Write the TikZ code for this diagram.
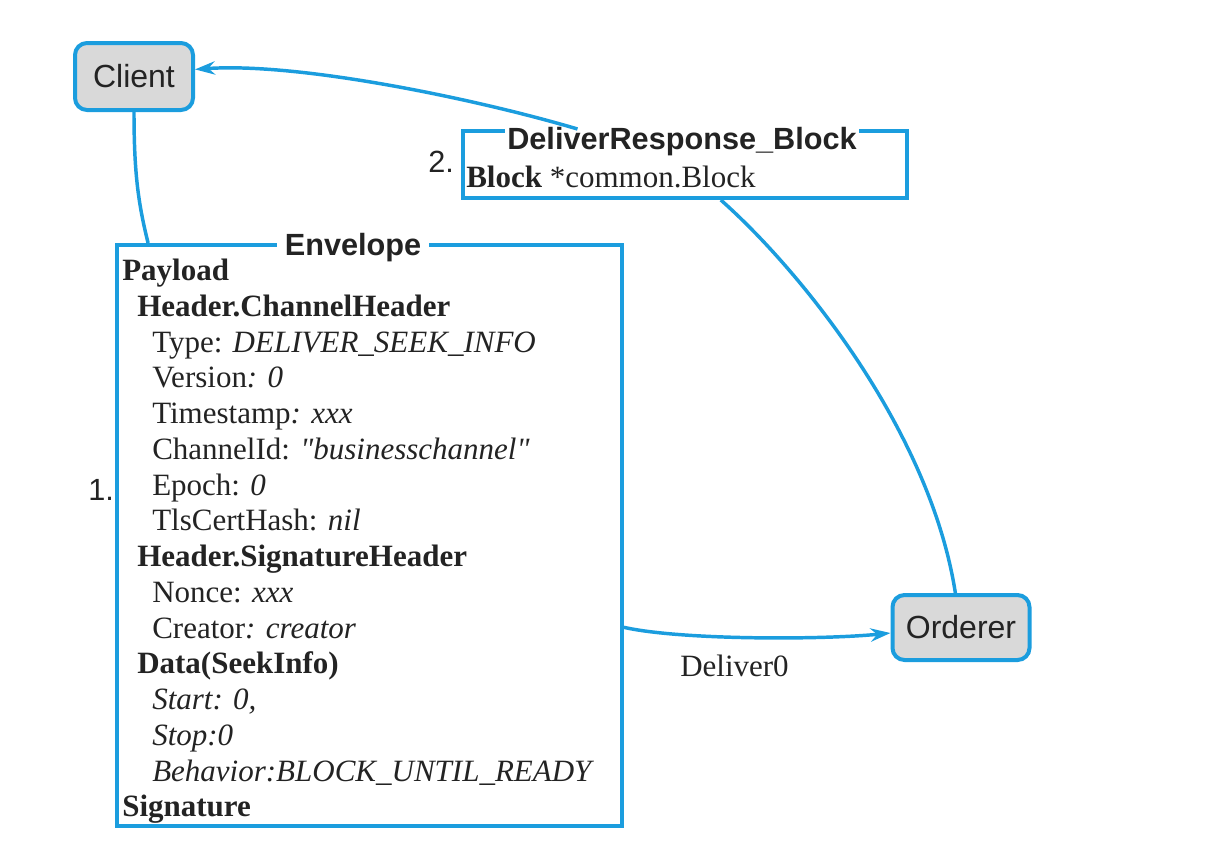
\documentclass[tikz,border=0pt]{standalone}
\usepackage{fontspec}
\setmainfont{Liberation Serif}
\setsansfont{Liberation Sans}
\usetikzlibrary{arrows.meta,calc}

\definecolor{msgblue}{RGB}{27,157,222}
\definecolor{nodegray}{RGB}{217,217,217}
\definecolor{inkgray}{RGB}{35,35,35}

\tikzset{
  peer/.style={draw=msgblue, fill=nodegray, line width=3pt, rounded corners=9pt, text=inkgray, font=\sffamily\fontsize{24}{28}\selectfont, inner sep=0pt},
  msgframe/.style={draw=msgblue, line width=3pt, inner sep=0pt},
  frametitle/.style={fill=white, text=inkgray, font=\sffamily\bfseries\fontsize{23}{27}\selectfont, inner ysep=2pt},
  fieldtext/.style={text=inkgray, font=\fontsize{23.25}{26.8}\selectfont, inner sep=0pt},
  steplabel/.style={text=inkgray, font=\sffamily\fontsize{23}{27}\selectfont, inner sep=0pt},
  flow/.style={draw=msgblue, line width=2.6pt},
  flowtip/.style={-{Stealth[length=15pt,width=10pt,inset=5pt]}}
}

\begin{document}
\begin{tikzpicture}[x=0.75pt,y=0.75pt,yscale=-1,xscale=1]
\useasboundingbox (0,0) rectangle (1214,847);

%Shape: Rounded Rect (client)
\node [peer, minimum width=88.5pt, minimum height=50.25pt] (client) at (134,76.5) {Client};
%Shape: Rounded Rect (orderer)
\node [peer, minimum width=102.75pt, minimum height=48.75pt] (orderer) at (961,627.5) {Orderer};

%Shape: Rectangle (deliver response)
\node [msgframe, minimum width=333pt, minimum height=50.25pt] (dresp) at (685,164.5) {};
% Text Node
\node [frametitle, inner xsep=1.5pt, anchor=base] (dresptitle) at (682,149) {DeliverResponse\_Block};
% Text Node
\node [fieldtext, anchor=base west] (drespbody) at (466,187) {\textbf{Block} *common.Block};
% Text Node
\node [steplabel, anchor=base west] (steptwo) at (428,172) {2.};

%Shape: Rectangle (envelope)
\node [msgframe, minimum width=378.75pt, minimum height=435.75pt] (envelope) at (369.5,535.5) {};
% Text Node
\node [frametitle, inner xsep=6pt, anchor=base] (envtitle) at (353,255) {Envelope};
% Text Node
\node [fieldtext, anchor=north west, align=left] (envbody) at (122,259) {%
\textbf{Payload}\\
\hspace*{11.25pt}\textbf{Header.ChannelHeader}\\
\hspace*{22.5pt}Type: \textit{DELIVER\_SEEK\_INFO}\\
\hspace*{22.5pt}Version\textit{: 0}\\
\hspace*{22.5pt}Timestamp\textit{: xxx}\\
\hspace*{22.5pt}ChannelId: \textit{\textquotedbl businesschannel\textquotedbl}\\
\hspace*{22.5pt}Epoch: \textit{0}\\
\hspace*{22.5pt}TlsCertHash: \textit{nil}\\
\hspace*{11.25pt}\textbf{Header.SignatureHeader}\\
\hspace*{22.5pt}Nonce: \textit{xxx}\\
\hspace*{22.5pt}Creator\textit{: creator}\\
\hspace*{11.25pt}\textbf{Data(SeekInfo)}\\
\hspace*{22.5pt}\textit{Start: 0,}\\
\hspace*{22.5pt}\textit{Stop:0}\\
\hspace*{22.5pt}\textit{Behavior:BLOCK\_UNTIL\_READY}\\
\textbf{Signature}};
% Text Node
\node [steplabel, anchor=base west] (stepone) at (88,500) {1.};

% Text Node
\node [fieldtext, anchor=base west] (deliverlabel) at (680,676) {Deliver0};

%Curve Lines (client to envelope)
\draw [flow] (client.south) .. controls +(0,60) and +(-10,-40) .. ($(envelope.north west)!0.065!(envelope.north east)$);
%Curve Lines (response back to client)
\draw [flow, flowtip] ($(dresp.north west)!0.26!(dresp.north east)$) .. controls (480,100) and (300,62) .. ($(client.north east)!0.4!(client.south east)$);
%Curve Lines (orderer to response)
\draw [flow] ($(dresp.south west)!0.58!(dresp.south east)$) .. controls (800,270) and (930,430) .. ($(orderer.north west)!0.46!(orderer.north east)$);
%Curve Lines (envelope to orderer)
\draw [flow, flowtip] ($(envelope.north east)!0.657!(envelope.south east)$) .. controls (680,640) and (820,640) .. ($(orderer.north west)!0.58!(orderer.south west)$);

\end{tikzpicture}
\end{document}
